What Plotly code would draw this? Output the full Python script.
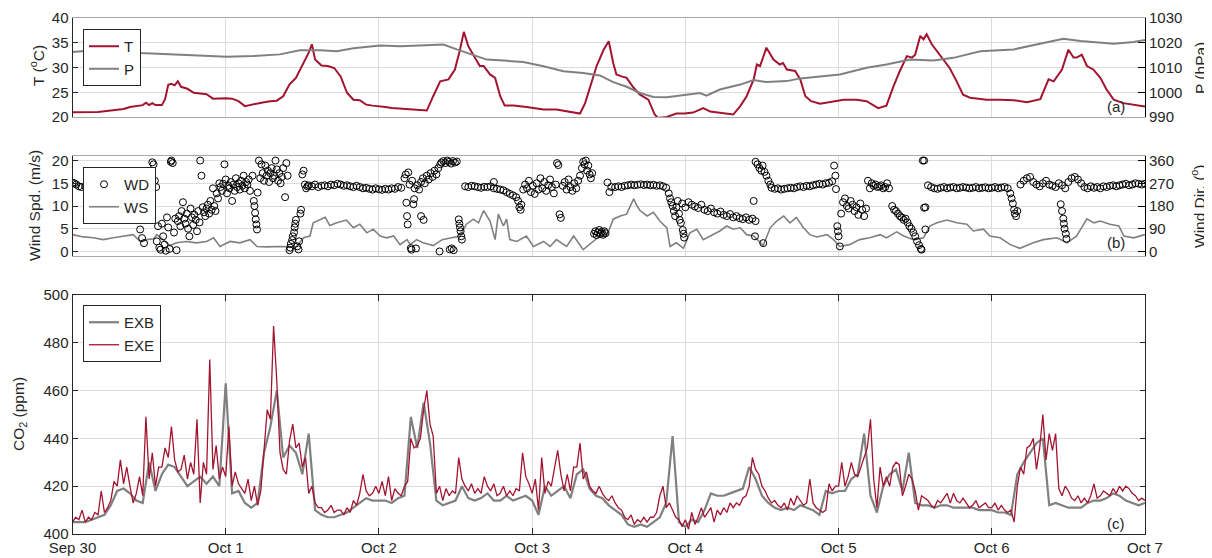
import pandas as pd
import plotly.graph_objects as go

START = pd.Timestamp("2019-09-30")
DAY_LABELS = ["Sep 30", "Oct 1", "Oct 2", "Oct 3", "Oct 4", "Oct 5", "Oct 6", "Oct 7"]

RED = "#A2142F"
GRAY = "#808080"
GRID = "#dcdcdc"
INK = "#262626"
FONT = "Liberation Sans, Arial, sans-serif"

# (hour since Sep 30 00:00, value)
T_OBS = [
    (0, 20.95), (2, 21.0), (4, 21.0), (6, 21.3), (8, 21.6), (9, 22.0), (10, 22.2), (11, 22.4),
    (11.5, 22.9), (12, 22.4), (12.5, 22.8), (13, 22.4), (14, 22.4), (14.5, 23.6), (15, 26.5),
    (15.5, 26.7), (16, 26.4), (16.5, 27.2), (17, 26.1), (18, 25.7), (19, 24.9), (20, 24.7),
    (21, 24.6), (22, 23.7), (23, 23.8), (24, 23.8), (25, 23.7), (26, 23.2), (27, 22.2),
    (28, 22.5), (29, 22.8), (30, 23.0), (31, 23.2), (32, 23.3), (33, 24.2), (34, 26.6),
    (35, 27.9), (36, 30.3), (37, 33.0), (37.5, 34.7), (38, 31.6), (39, 30.4), (40, 30.3),
    (41, 29.9), (42, 28.2), (43, 24.9), (44, 23.5), (45, 23.4), (46, 22.5), (47, 22.3),
    (48, 22.2), (49, 22.0), (50, 21.8), (51, 21.7), (52, 21.6), (53, 21.5), (55, 21.2),
    (55.5, 21.3), (56.5, 24.2), (57.6, 27.2), (58.9, 27.6), (59.9, 29.6), (60.7, 33.6),
    (61.3, 37.2), (62, 34.3), (63, 32.0), (63.8, 30.3), (64.4, 30.3), (65.4, 28.6),
    (66.2, 27.9), (67, 24.2), (67.7, 22.3), (69.1, 22.3), (71.1, 22.0), (72.1, 21.8),
    (73.8, 21.5), (75.8, 21.5), (77.9, 21.1), (79.5, 20.7), (80.3, 22.8), (81.3, 26.9),
    (82.1, 30.3), (83.2, 33.6), (84, 35.3), (84.7, 30.9), (85.2, 28.6), (86, 28.2),
    (86.8, 27.9), (87.9, 25.9), (88.9, 24.5), (90.2, 23.5), (91.2, 20.5), (91.7, 19.8),
    (93.1, 20.0), (94.6, 20.7), (95.9, 20.7), (97.2, 20.9), (98.8, 21.8), (99.9, 21.1),
    (101.4, 20.9), (103.5, 20.5), (104.6, 22.2), (105.6, 24.2), (106.7, 27.6), (107.2, 30.6),
    (107.7, 30.3), (108.7, 34.0), (109.8, 31.6), (110.8, 30.6), (111.3, 30.9), (111.9, 29.6),
    (113.2, 29.3), (114, 27.6), (114.8, 24.2), (115.7, 23.2), (117.1, 22.7), (119.2, 23.2),
    (120.8, 23.5), (122.8, 23.5), (124.4, 23.2), (126.2, 21.8), (127.5, 22.3), (128.6, 26.2),
    (129.6, 29.3), (130.7, 32.3), (131.5, 32.0), (132, 32.6), (132.8, 36.4), (133.3, 35.7),
    (133.8, 36.7), (134.6, 34.7), (135.4, 33.3), (136.4, 31.6), (137.4, 29.9), (138.5, 27.2),
    (139.5, 24.5), (140.6, 23.9), (143.2, 23.5), (145.3, 23.5), (147.4, 23.4), (149.5, 23.0),
    (151.6, 23.6), (152.9, 27.6), (153.7, 27.2), (155, 29.6), (156, 33.6), (156.8, 32.0),
    (157.3, 32.0), (158.1, 32.6), (158.9, 30.3), (159.9, 29.6), (161, 27.9), (162, 25.5),
    (163.1, 23.5), (164.6, 22.8), (166.2, 22.5), (168, 22.1),
]

P_OBS = [
    (0, 1016.3), (5.9, 1017.6), (10.6, 1015.9), (15.8, 1015.3), (20, 1014.6), (24.2, 1014.3),
    (28.3, 1014.6), (32.5, 1015.3), (35.6, 1017.0), (38.8, 1017.0), (41.4, 1016.6),
    (44, 1017.8), (48.2, 1018.9), (51.3, 1018.6), (54.4, 1018.9), (58.1, 1019.3),
    (60.2, 1017.3), (62.8, 1014.9), (64.9, 1013.2), (67.5, 1012.8), (70.6, 1012.2),
    (73.8, 1010.5), (76.9, 1008.5), (80.0, 1007.8), (82.6, 1006.8), (84.7, 1004.1),
    (86.8, 1002.2), (88.9, 999.7), (91.0, 998.1), (93.1, 998.0), (95.7, 998.8), (98.3, 999.7),
    (99.3, 998.6), (101.4, 1001.1), (104.6, 1003.1), (106.7, 1004.9), (108.7, 1004.1),
    (111.9, 1004.5), (114.0, 1005.6), (116.6, 1006.2), (120.2, 1007.2), (124.4, 1009.9),
    (127.5, 1011.2), (131.2, 1013.2), (134.8, 1012.8), (138.0, 1013.9), (142.2, 1016.6),
    (147.4, 1017.3), (151.6, 1019.7), (155.2, 1021.6), (157.9, 1020.7), (163.1, 1019.6),
    (166.2, 1020.3), (168, 1021.1),
]

WS_OBS = [
    (0, 3.7), (1.7, 3.2), (3.3, 3.0), (4.8, 2.6), (6.4, 3.0), (8.0, 3.4), (9.5, 3.7), (10.6, 2.2),
    (11.6, 2.6), (12.7, 2.8), (13.2, 3.7), (14.2, 2.6), (15.3, 1.3), (16.3, 1.9), (17.9, 2.2),
    (19.4, 1.9), (21.0, 2.2), (22.1, 3.0), (23.1, 1.1), (24.7, 2.2), (26.2, 1.9), (27.8, 2.6),
    (28.9, 1.1), (30.4, 1.0), (32.5, 1.1), (34.1, 1.0), (35.1, 1.1), (36.2, 3.0), (37.2, 3.4),
    (37.7, 6.3), (38.8, 7.1), (39.6, 7.5), (40.3, 5.7), (41.4, 6.3), (42.9, 6.9), (44.0, 5.2),
    (45.0, 6.0), (46.1, 4.1), (47.1, 4.9), (48.2, 3.4), (49.2, 3.0), (50.3, 3.4), (51.3, 1.5),
    (52.4, 2.6), (52.9, 1.5), (53.9, 2.6), (54.9, 1.9), (56.5, 1.3), (57.9, 2.6), (59.1, 3.0),
    (60.7, 3.4), (61.7, 6.0), (62.8, 7.1), (63.6, 6.3), (64.4, 9.0), (65.4, 6.7), (66.2, 2.6),
    (66.7, 8.2), (67.5, 5.6), (68.0, 7.1), (68.5, 2.6), (69.6, 2.2), (71.1, 3.4), (72.2, 1.1),
    (73.8, 2.2), (74.8, 1.1), (75.8, 2.6), (77.4, 1.1), (78.5, 3.4), (80.0, 0.4), (81.6, 2.2),
    (82.6, 3.4), (83.7, 3.4), (84.7, 7.1), (85.8, 7.8), (86.8, 8.2), (87.9, 11.6), (88.4, 10.1),
    (88.9, 9.0), (90.0, 7.8), (91.0, 8.6), (92.0, 6.7), (93.1, 5.2), (93.6, 1.1), (94.6, 1.9),
    (95.7, 0.7), (96.7, 4.1), (97.8, 4.9), (98.8, 2.6), (99.9, 3.4), (101.4, 4.5), (102.5, 5.6),
    (103.5, 4.9), (104.6, 5.2), (105.6, 3.7), (106.7, 3.4), (107.7, 1.9), (108.2, 1.3),
    (109.3, 5.2), (110.3, 6.7), (111.4, 7.8), (112.4, 6.3), (113.4, 7.5), (114.5, 5.2),
    (115.5, 3.7), (116.6, 3.2), (118.2, 3.7), (119.2, 2.6), (120.2, 1.1), (121.7, 1.5),
    (123.3, 2.6), (124.9, 3.0), (126.5, 3.7), (127.5, 3.0), (129.1, 4.3), (130.2, 3.4),
    (131.7, 2.6), (133.3, 3.0), (134.3, 5.6), (135.4, 6.3), (137.0, 6.9), (138.5, 6.3),
    (140.1, 6.0), (141.1, 4.5), (142.7, 4.9), (143.7, 3.4), (145.3, 3.0), (146.9, 1.5),
    (148.4, 0.7), (150.5, 1.9), (152.1, 2.6), (154.2, 3.0), (155.8, 1.9), (157.3, 3.4),
    (158.9, 7.2), (160.0, 6.3), (161.0, 6.7), (162.5, 6.0), (163.9, 5.6), (164.7, 3.4),
    (166.2, 3.0), (168, 3.7),
]

WD_OBS = [
    (0, 272), (0.3, 270), (0.6, 265), (1.0, 258), (1.4, 255), (2, 258), (2.5, 262), (3, 255),
    (3.5, 250), (4, 260), (4.5, 265), (5, 258), (5.5, 252), (6, 260), (6.5, 255), (7, 262),
    (7.5, 258), (8, 250), (8.5, 256), (9, 262), (9.5, 255),
    (10.6, 87), (10.9, 53), (11.2, 33), (11.4, 125), (11.7, 190), (12.0, 160), (12.3, 300),
    (12.5, 353), (12.7, 345), (12.9, 280), (13.1, 255), (13.2, 40), (13.4, 100), (13.6, 15),
    (13.8, 7), (14.0, 110), (14.2, 60), (14.4, 27), (14.6, 3), (14.8, 135), (15.0, 95),
    (15.2, 10), (15.4, 355), (15.5, 360), (15.7, 350), (15.9, 75), (16.1, 130), (16.3, 5),
    (16.5, 120), (16.7, 140), (16.9, 100), (17.1, 160), (17.3, 195), (17.5, 130), (17.7, 110),
    (17.9, 150), (18.1, 90), (18.3, 60), (18.5, 170), (18.7, 135), (18.9, 105), (19.1, 145),
    (19.3, 125), (19.5, 80), (19.7, 160), (19.9, 115),
    (20.0, 360), (20.2, 300), (20.4, 175), (20.6, 155), (20.8, 140), (21.0, 170), (21.2, 185),
    (21.4, 150), (21.6, 200), (21.8, 165), (22.0, 250), (22.2, 180), (22.4, 160), (22.6, 230),
    (22.8, 210), (23.0, 270),
    (23.2, 255), (23.4, 240), (23.6, 268), (23.8, 345), (24.0, 285), (24.2, 230), (24.4, 260),
    (24.6, 250), (24.8, 275), (25.0, 200), (25.2, 265), (25.4, 240), (25.6, 290), (25.8, 255),
    (26.0, 270), (26.2, 245), (26.4, 280), (26.6, 260), (26.8, 300), (27.0, 250), (27.2, 275),
    (27.4, 265), (27.6, 285), (27.8, 240),
    (28.2, 300), (28.4, 200), (28.5, 180), (28.6, 153), (28.7, 127), (28.8, 107), (28.9, 87),
    (29.0, 233), (29.2, 360), (29.4, 290), (29.6, 345), (29.8, 310), (30.0, 280), (30.2, 340),
    (30.4, 300), (30.6, 320), (30.8, 275), (31.0, 310), (31.2, 330), (31.4, 290), (31.6, 300),
    (31.8, 360), (32.0, 325), (32.2, 280), (32.4, 310), (32.6, 270), (32.8, 295), (33.0, 330),
    (33.3, 215), (33.5, 350), (33.7, 300), (34.0, 5), (34.1, 15), (34.2, 30), (34.4, 45),
    (34.5, 60), (34.7, 75), (34.8, 95), (34.9, 110), (35.0, 125), (35.2, 20), (35.4, 8),
    (35.5, 40), (35.7, 150), (35.8, 165), (36.0, 305), (36.2, 320), (36.4, 265), (36.6, 250),
    (36.8, 258),
    (37, 262), (37.5, 258), (38, 265), (38.5, 255), (39, 260), (39.5, 262), (40, 258),
    (40.5, 265), (41, 262), (41.5, 268), (42, 265), (42.5, 260), (43, 262), (43.5, 258),
    (44, 255), (44.5, 260), (45, 255), (45.5, 250), (46, 252), (46.5, 248), (47, 245),
    (47.5, 250), (48, 246), (48.5, 244), (49, 248), (49.5, 245), (50, 250), (50.5, 248),
    (51, 255), (51.5, 252),
    (52.0, 290), (52.2, 305), (52.3, 193), (52.4, 140), (52.5, 107), (52.6, 313), (52.8, 265),
    (53.0, 13), (53.1, 7), (53.2, 280), (53.4, 187), (53.5, 207), (53.6, 250), (53.8, 12),
    (54.0, 262), (54.3, 245), (54.6, 275), (54.9, 290), (55.2, 270), (55.5, 300), (55.8, 285),
    (56.1, 310), (56.4, 295), (56.7, 320), (57.0, 305), (57.3, 330), (57.6, 345), (54.6, 140),
    (55.0, 125), (57.5, 0),
    (57.8, 352), (58.1, 358), (58.4, 350), (58.7, 360), (59.0, 355), (59.3, 348), (59.6, 358),
    (59.9, 352), (60.2, 356), (59.1, 8), (59.4, 12), (59.7, 5),
    (60.5, 127), (60.6, 110), (60.7, 95), (60.8, 80), (60.9, 60), (61.0, 47),
    (61.5, 258), (62, 255), (62.5, 260), (63, 258), (63.5, 255), (64, 252), (64.5, 256),
    (65, 255), (65.5, 258), (66, 250), (66.0, 275), (66.5, 248), (67, 245), (67.5, 242),
    (68, 235), (68.5, 228), (69, 222), (69.5, 215), (69.8, 200), (70.0, 175), (70.2, 165),
    (70.3, 185),
    (70.6, 245), (70.9, 265), (71.2, 250), (71.5, 280), (71.8, 235), (72.1, 260), (72.4, 228),
    (72.7, 270), (73.0, 245), (73.3, 290), (73.6, 250), (73.9, 275), (74.2, 240), (74.5, 262),
    (74.8, 285), (75.1, 255), (75.4, 230), (75.7, 265),
    (75.9, 350), (76.1, 342), (76.3, 147), (76.5, 133),
    (76.8, 260), (77.1, 275), (77.4, 245), (77.7, 285), (78.0, 255), (78.3, 240), (78.6, 270),
    (78.9, 250), (79.2, 280), (79.5, 300),
    (79.8, 330), (80.0, 355), (80.2, 345), (80.4, 360), (80.6, 320), (80.8, 340), (81.0, 305),
    (81.2, 290), (81.4, 310),
    (81.7, 70), (81.9, 80), (82.1, 65), (82.3, 75), (82.5, 85), (82.7, 70), (82.9, 78),
    (83.1, 66), (83.3, 80), (83.5, 72),
    (83.8, 273), (84.1, 235), (84.4, 255),
    (85, 255), (85.5, 258), (86, 255), (86.5, 260), (87, 262), (87.5, 265), (88, 262),
    (88.5, 264), (89, 266), (89.5, 263), (90, 265), (90.5, 262), (91, 264), (91.5, 260),
    (92, 262), (92.5, 258), (93, 252),
    (93.4, 230), (93.6, 210), (93.8, 195), (94.0, 180), (94.2, 160), (94.4, 140), (94.6, 175),
    (94.8, 200), (95.0, 150), (95.1, 125), (95.3, 113), (95.5, 190), (95.6, 85), (95.7, 70),
    (95.8, 55), (96.0, 175),
    (96.5, 195), (97, 185), (97.5, 178), (98, 172), (98.5, 185), (99, 165), (99.5, 160),
    (100, 170), (100.5, 155), (101, 150), (101.5, 158), (102, 145), (102.5, 140), (103, 148),
    (103.5, 135), (104, 140), (104.5, 132), (105, 128), (105.5, 135), (106, 125), (106.5, 130),
    (107, 120), (106.7, 200), (106.9, 60), (108.2, 33),
    (107.0, 355), (107.3, 345), (107.6, 330), (107.9, 320), (108.1, 340), (108.4, 315),
    (108.7, 300), (109.0, 280), (109.3, 265),
    (109.5, 252), (110, 248), (110.5, 250), (111, 245), (111.5, 248), (112, 250), (112.5, 252),
    (113, 250), (113.5, 255), (114, 258), (114.5, 255), (115, 260), (115.5, 258), (116, 262),
    (116.5, 265), (117, 268), (117.5, 265), (118, 270), (118.5, 272), (119, 278),
    (119.3, 340), (119.5, 300), (119.6, 247), (119.8, 100), (119.9, 80), (120.0, 60),
    (120.2, 20),
    (120.4, 150), (120.7, 195), (121.0, 210), (121.3, 180), (121.6, 170), (121.9, 200),
    (122.2, 185), (122.5, 160), (122.8, 175), (123.1, 145), (123.4, 190), (123.7, 165),
    (124.0, 140), (124.3, 170),
    (124.6, 280), (124.9, 250), (125.2, 270), (125.5, 260), (125.8, 265), (126.1, 255),
    (126.4, 258), (126.7, 262), (127.0, 250), (127.3, 255), (127.6, 270), (127.9, 250),
    (128.4, 180), (128.7, 165), (129.0, 160), (129.3, 150), (129.6, 140), (129.9, 135),
    (130.2, 125), (130.5, 130), (130.8, 115), (131.1, 100), (131.4, 90), (131.7, 75),
    (132.0, 60), (132.3, 40), (132.6, 25), (132.9, 10), (133.0, 7),
    (133.2, 360), (133.4, 360), (133.4, 173), (133.6, 175), (133.6, 87),
    (134, 262), (134.5, 255), (135, 250), (135.5, 248), (136, 252), (136.5, 255), (137, 250),
    (137.5, 253), (138, 255), (138.5, 250), (139, 252), (139.5, 255), (140, 253), (140.5, 250),
    (141, 252), (141.5, 255), (142, 250), (142.5, 252), (143, 254), (143.5, 250), (144, 252),
    (144.5, 255), (145, 250), (145.5, 253), (146, 255), (146.5, 250),
    (146.9, 230), (147.1, 210), (147.3, 190), (147.5, 165), (147.6, 150), (147.8, 140),
    (148.0, 160),
    (148.5, 265), (149, 280), (149.5, 290), (150, 295), (150.5, 275), (151, 265), (151.5, 258),
    (152, 270), (152.5, 280), (153, 265), (153.5, 260), (154, 255), (154.5, 270), (155, 262),
    (155.5, 250), (156, 275), (156.5, 290), (157, 295), (157.5, 285), (158, 270),
    (154.8, 187), (155.0, 160), (155.2, 130), (155.3, 110), (155.4, 90), (155.6, 70),
    (155.7, 50),
    (158.5, 255), (159, 250), (159.5, 258), (160, 252), (160.5, 255), (161, 250), (161.5, 258),
    (162, 255), (162.5, 260), (163, 262), (163.5, 258), (164, 262), (164.5, 265), (165, 268),
    (165.5, 262), (166, 265), (166.5, 270), (167, 268), (167.5, 265), (168, 268),
]

# CO2 (ppm), EXE every 30 min, EXB every hour, from Sep 30 00:00
EXE_CO2 = [
    405, 407, 406, 410, 405, 407, 406, 409, 408, 418, 409, 411,
    414, 422, 420, 431, 421, 428, 420, 413, 417, 424, 416, 449,
    423, 434, 420, 428, 428, 436, 432, 445, 431, 426, 427, 433,
    423, 430, 425, 448, 413, 430, 425, 473, 427, 437, 423, 428,
    424, 445, 420, 426, 421, 419, 417, 423, 414, 420, 412, 418,
    436, 452, 448, 487, 464, 434, 427, 425, 439, 446, 436, 438,
    428, 432, 417, 420, 413, 411, 411, 409, 410, 412, 409, 410,
    410, 408, 411, 409, 414, 412, 417, 425, 418, 416, 417, 420,
    417, 422, 416, 424, 414, 419, 417, 416, 420, 422, 440, 436,
    437, 440, 452, 460, 446, 441, 417, 420, 414, 419, 416, 418,
    417, 432, 423, 420, 418, 421, 417, 419, 417, 424, 420, 418,
    421, 416, 417, 420, 416, 418, 416, 419, 418, 434, 424, 421,
    417, 423, 410, 432, 417, 422, 420, 427, 435, 425, 418, 425,
    418, 428, 428, 438, 423, 426, 420, 418, 417, 420, 417, 415,
    414, 416, 413, 411, 410, 407, 406, 408, 404, 406, 405, 407,
    405, 407, 407, 409, 416, 420, 411, 413, 410, 407, 406, 403,
    406, 402, 409, 404, 407, 411, 407, 409, 411, 405, 410, 408,
    411, 409, 413, 411, 413, 412, 415, 416, 420, 432, 427, 425,
    420, 418, 415, 413, 414, 412, 411, 413, 410, 415, 412, 416,
    414, 412, 413, 423, 413, 411, 410, 409, 410, 421, 418, 420,
    420, 430, 420, 424, 430, 425, 424, 428, 432, 436, 448, 423,
    411, 428, 420, 424, 420, 428, 430, 429, 416, 420, 425, 423,
    418, 410, 416, 415, 414, 412, 411, 414, 413, 415, 417, 413,
    417, 414, 413, 415, 413, 411, 412, 414, 411, 412, 413, 411,
    411, 413, 410, 412, 410, 409, 410, 405, 420, 428, 425, 436,
    437, 440, 427, 436, 450, 431, 442, 435, 442, 419, 416, 420,
    418, 415, 414, 416, 413, 415, 413, 416, 421, 415, 416, 418,
    417, 416, 419, 417, 420, 418, 420, 419, 417, 416, 414, 415,
    414,
]

EXB_CO2 = [
    405, 405, 405, 406, 407, 408, 412, 418, 419, 417, 414, 413,
    430, 418, 425, 429, 428, 424, 420, 422, 424, 421, 424, 420,
    463, 417, 418, 413, 411, 413, 434, 445, 460, 432, 437, 434,
    425, 442, 410, 408, 407, 407, 408, 409, 411, 413, 415, 414,
    414, 414, 413, 415, 416, 449, 436, 455, 438, 414, 412, 413,
    414, 420, 415, 414, 415, 417, 414, 414, 416, 414, 415, 416,
    414, 408, 420, 416, 418, 420, 415, 425, 427, 419, 416, 415,
    412, 410, 408, 404, 403, 404, 403, 405, 407, 413, 441, 405,
    403, 406, 405, 410, 417, 416, 416, 417, 418, 419, 428, 423,
    416, 413, 411, 410, 411, 410, 412, 411, 410, 408, 418, 417,
    418, 418, 423, 425, 442, 416, 409, 420, 425, 427, 418, 434,
    413, 412, 412, 411, 412, 412, 411, 411, 411, 411, 410, 410,
    410, 409, 409, 408, 425, 430, 434, 438, 440, 412, 413, 412,
    411, 411, 411, 413, 414, 414, 415, 417, 416, 414, 413, 412,
    413,
]


def to_time(hours):
    return START + pd.to_timedelta(list(hours), unit="h")


def split(obs):
    return to_time([h for h, _ in obs]), [v for _, v in obs]


# the page puts the figure 8 px in from the top-left corner of the window
OFF = 8
W, H = 1212 - OFF, 558 - OFF


def px_x(x):
    return (x - OFF) / W


def px_y(y):
    return 1 - (y - OFF) / H


X_DOM = [px_x(72.5), px_x(1145)]


def ydom(top_px, bottom_px):
    return [px_y(bottom_px), px_y(top_px)]


days = to_time([24 * i for i in range(len(DAY_LABELS))])
x_range = [days[0], days[-1]]

fig = go.Figure()

t_x, t_y = split(T_OBS)
p_x, p_y = split(P_OBS)
fig.add_trace(go.Scatter(x=t_x, y=t_y, name="T", mode="lines",
                         line=dict(color=RED, width=2), xaxis="x", yaxis="y", legend="legend"))
fig.add_trace(go.Scatter(x=p_x, y=p_y, name="P", mode="lines",
                         line=dict(color=GRAY, width=2), xaxis="x", yaxis="y2", legend="legend"))

wd_x, wd_y = split(WD_OBS)
ws_x, ws_y = split(WS_OBS)
fig.add_trace(go.Scatter(x=wd_x, y=wd_y, name="WD", mode="markers",
                         marker=dict(symbol="circle-open", size=7, color="black",
                                     line=dict(width=1)),
                         xaxis="x2", yaxis="y4", legend="legend2"))
fig.add_trace(go.Scatter(x=ws_x, y=ws_y, name="WS", mode="lines",
                         line=dict(color=GRAY, width=1.6), xaxis="x2", yaxis="y3", legend="legend2"))

fig.add_trace(go.Scatter(x=to_time(range(len(EXB_CO2))), y=EXB_CO2, name="EXB", mode="lines",
                         line=dict(color=GRAY, width=2.2), xaxis="x3", yaxis="y5", legend="legend3"))
fig.add_trace(go.Scatter(x=to_time([0.5 * i for i in range(len(EXE_CO2))]), y=EXE_CO2,
                         name="EXE", mode="lines", line=dict(color=RED, width=1.3),
                         xaxis="x3", yaxis="y5", legend="legend3"))

tick_font = dict(family=FONT, size=15, color=INK)
xbase = dict(domain=X_DOM, range=x_range, tickvals=days, showgrid=True, gridcolor=GRID,
             showline=True, mirror=True, zeroline=False, tickfont=tick_font, automargin=False)
ybase = dict(showgrid=True, gridcolor=GRID, showline=True, linecolor=INK, zeroline=False,
             ticks="inside", ticklen=5, tickcolor=INK, tickfont=tick_font, automargin=False)
yright = dict(showgrid=False, showline=True, linecolor="black", zeroline=False, side="right",
              ticks="inside", ticklen=7, tickcolor="black", tickfont=tick_font,
              automargin=False)

legend_style = dict(bgcolor="white", bordercolor=INK, borderwidth=1, itemwidth=30,
                    font=dict(family=FONT, size=15, color=INK), xanchor="left",
                    yanchor="top", tracegroupgap=0)

fig.update_layout(
    width=W, height=H,
    margin=dict(l=0, r=0, t=0, b=0, autoexpand=False),
    plot_bgcolor="white", paper_bgcolor="white",
    font=dict(family=FONT, size=15, color=INK),
    xaxis=dict(xbase, anchor="y", showticklabels=False, ticks="", linecolor="#a8a8a8"),
    yaxis=dict(ybase, domain=ydom(18, 117), range=[20, 40], tickvals=[20, 25, 30, 35, 40]),
    yaxis2=dict(yright, overlaying="y", anchor="x", range=[990, 1030],
                tickvals=[990, 1000, 1010, 1020, 1030]),
    xaxis2=dict(xbase, anchor="y3", showticklabels=False, ticks="", linecolor="#a8a8a8"),
    yaxis3=dict(ybase, domain=ydom(156, 256), range=[-1, 21], tickvals=[0, 5, 10, 15, 20]),
    yaxis4=dict(yright, overlaying="y3", anchor="x2", range=[-18, 378],
                tickvals=[0, 90, 180, 270, 360]),
    xaxis3=dict(xbase, anchor="y5", ticktext=DAY_LABELS, ticks="inside", ticklen=6,
                tickcolor=INK, linecolor=INK, mirror="ticks"),
    yaxis5=dict(ybase, domain=ydom(295, 534), range=[400, 500],
                tickvals=[400, 420, 440, 460, 480, 500], mirror="ticks"),
    legend=dict(legend_style, x=px_x(83), y=px_y(29)),
    legend2=dict(legend_style, x=px_x(83), y=px_y(167)),
    legend3=dict(legend_style, x=px_x(83), y=px_y(305)),
)

labels = [
    ("T (<sup>o</sup>C)", 37, 66),
    ("P (hPa)", 1200, 68),
    ("Wind Spd. (m/s)", 34, 206),
    ("Wind Dir. (<sup>o</sup>)", 1198, 206),
    ("CO<sub>2</sub> (ppm)", 19, 414),
]
for text, px, py in labels:
    fig.add_annotation(text=text, x=px_x(px), y=px_y(py), xref="paper", yref="paper",
                       showarrow=False, textangle=-90, xanchor="center", yanchor="middle",
                       font=dict(family=FONT, size=15.5, color=INK))

for text, px, py in [("(a)", 1116, 107), ("(b)", 1116, 242), ("(c)", 1116, 523)]:
    fig.add_annotation(text=text, x=px_x(px), y=px_y(py), xref="paper", yref="paper",
                       showarrow=False, xanchor="center", yanchor="middle",
                       font=dict(family=FONT, size=15, color=INK))

fig.write_html("out.html")
